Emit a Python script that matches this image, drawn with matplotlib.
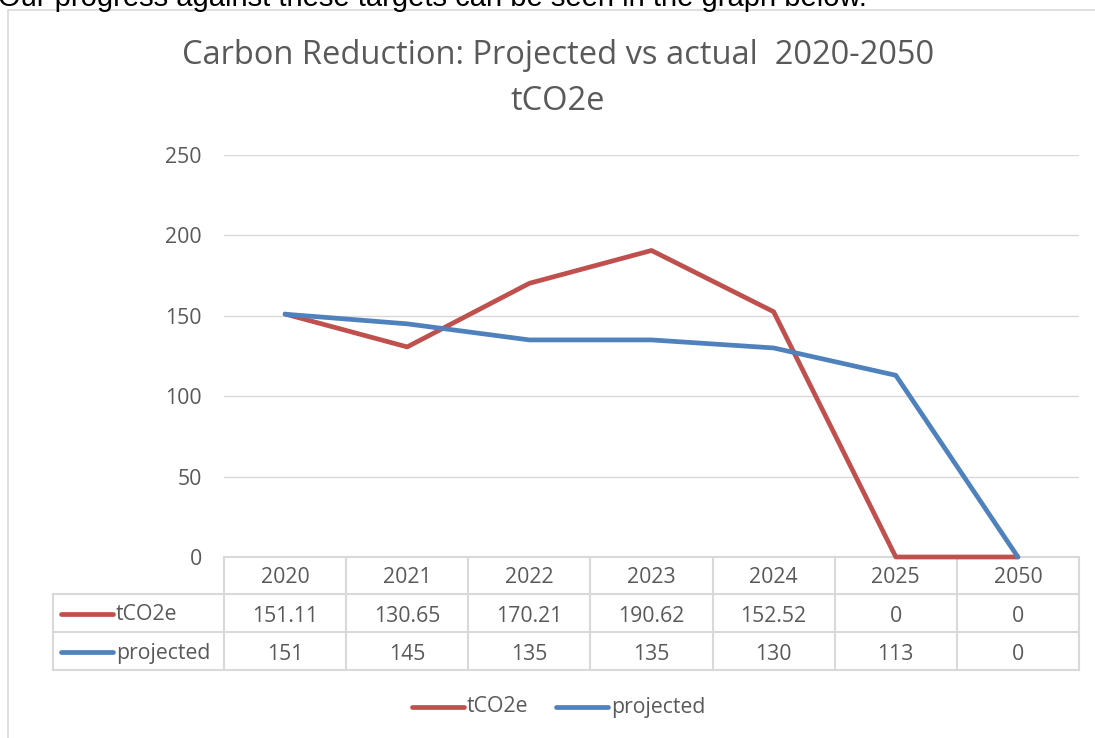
import numpy as np
import matplotlib
matplotlib.use("Agg")
import matplotlib.pyplot as plt

years = ["2020", "2021", "2022", "2023", "2024", "2025", "2050"]
tco2e = [151.11, 130.65, 170.21, 190.62, 152.52, 0, 0]
projected = [151, 145, 135, 135, 130, 113, 0]
tco2e_labels = ["151.11", "130.65", "170.21", "190.62", "152.52", "0", "0"]
projected_labels = ["151", "145", "135", "135", "130", "113", "0"]
yticks = [0, 50, 100, 150, 200, 250]

red = "#C0504D"
blue = "#4F81BD"
txt = "#595959"
grid = "#D9D9D9"
plt.rcParams["font.family"] = ["Open Sans", "DejaVu Sans"]
fs = 15.3

W, H = 1095, 738
fig = plt.figure(figsize=(W / 100, H / 100), dpi=100)

# pixel canvas for frame, table and legend
bg = fig.add_axes([0, 0, 1, 1])
bg.set_xlim(0, W)
bg.set_ylim(H, 0)
bg.axis("off")

# partly cut-off sentence above the chart
bg.text(-2, 6.5, "Our progress against these targets can be seen in the graph below.",
        fontsize=21, family="Liberation Sans", color="black", va="baseline", ha="left")

# chart border
bg.plot([8, 8, W + 5], [H + 5, 10, 10], color=grid, lw=1.2)

# title, centred on the chart
bg.text(558, 55, "Carbon Reduction: Projected vs actual  2020-2050", fontsize=23.5,
        color=txt, ha="center", va="center")
bg.text(558, 101, "tCO2e", fontsize=23.5, color=txt, ha="center", va="center")

# plot area
left, right, top, bottom = 224, 1079, 155, 557
ax = fig.add_axes([left / W, (H - bottom) / H, (right - left) / W, (bottom - top) / H])
ax.set_xlim(-0.5, len(years) - 0.5)
ax.set_ylim(0, 250)
ax.set_yticks(yticks)
ax.set_xticks([])
ax.grid(axis="y", color=grid, lw=1)
ax.set_axisbelow(True)
for s in ax.spines.values():
    s.set_visible(False)
ax.tick_params(axis="y", length=0, pad=16, labelsize=fs, labelcolor=txt)
ax.patch.set_alpha(0)
x = np.arange(len(years))
ax.plot(x, tco2e, color=red, lw=3.4, solid_capstyle="round", clip_on=False)
ax.plot(x, projected, color=blue, lw=3.4, solid_capstyle="round", clip_on=False)

# data table under the axis
colw = (right - left) / len(years)
rows = [557, 594, 632, 670]
tc = "#D9D9D9"
bg.plot([left, right], [rows[0], rows[0]], color=tc, lw=1.5)
for r in rows[1:]:
    bg.plot([53, right], [r, r], color=tc, lw=1.5)
bg.plot([53, 53], [rows[1], rows[3]], color=tc, lw=1.5)
for i in range(len(years) + 1):
    bg.plot([left + i * colw] * 2, [rows[0], rows[3]], color=tc, lw=1.5)
for i, y in enumerate(years):
    cx = left + (i + 0.5) * colw
    bg.text(cx, (rows[0] + rows[1]) / 2 + 2, y, ha="center", va="center", fontsize=fs, color=txt)
    bg.text(cx, (rows[1] + rows[2]) / 2 + 3, tco2e_labels[i], ha="center", va="center", fontsize=fs, color=txt)
    bg.text(cx, (rows[2] + rows[3]) / 2 + 3, projected_labels[i], ha="center", va="center", fontsize=fs, color=txt)

for (name, col, r0, r1) in [("tCO2e", red, rows[1], rows[2]), ("projected", blue, rows[2], rows[3])]:
    yy = (r0 + r1) / 2
    bg.plot([61, 113], [yy + 1, yy + 1], color=col, lw=3.4, solid_capstyle="round")
    bg.text(116, yy + 2, name, ha="left", va="center", fontsize=fs, color=txt)

# bottom legend
for (name, col, x0) in [("tCO2e", red, 412), ("projected", blue, 556)]:
    bg.plot([x0, x0 + 52], [707, 707], color=col, lw=3.4, solid_capstyle="round")
    bg.text(x0 + 55, 707, name, ha="left", va="center", fontsize=fs, color=txt)

fig.savefig("out.png", dpi=100)
